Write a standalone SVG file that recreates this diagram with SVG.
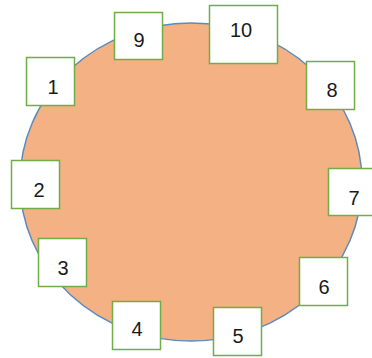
<svg xmlns="http://www.w3.org/2000/svg" width="372" height="358" viewBox="0 0 372 358">
<style>
.box{fill:#ffffff;stroke:#70AD47;stroke-width:1.5}
.lbl{font-family:"Liberation Sans",Arial,sans-serif;font-size:20px;fill:#1a1a1a;text-anchor:middle}
</style>
<rect width="372" height="358" fill="#ffffff"/>
<g id="circle">
<ellipse cx="191" cy="182" rx="171" ry="159" fill="#F4B183" stroke="#5B8BBE" stroke-width="1.5"/>
</g>
<g id="connectors"></g>
<g id="n1"><rect class="box" x="26.5" y="57.5" width="48" height="48"/><text class="lbl" x="53" y="94">1</text></g>
<g id="n2"><rect class="box" x="11.5" y="160.5" width="48" height="48"/><text class="lbl" x="39" y="197">2</text></g>
<g id="n3"><rect class="box" x="38.5" y="238.5" width="48" height="48"/><text class="lbl" x="63" y="275">3</text></g>
<g id="n4"><rect class="box" x="112.5" y="301.5" width="48" height="48"/><text class="lbl" x="137" y="336">4</text></g>
<g id="n5"><rect class="box" x="213.5" y="307.5" width="48" height="48"/><text class="lbl" x="238" y="343">5</text></g>
<g id="n6"><rect class="box" x="299.5" y="257.5" width="48" height="48"/><text class="lbl" x="324" y="294">6</text></g>
<g id="n7"><rect class="box" x="328.5" y="168.5" width="48" height="47"/><text class="lbl" x="354" y="205">7</text></g>
<g id="n8"><rect class="box" x="306.5" y="61.5" width="48" height="48"/><text class="lbl" x="332" y="97">8</text></g>
<g id="n9"><rect class="box" x="114.5" y="12.5" width="48" height="47"/><text class="lbl" x="139" y="47">9</text></g>
<g id="n10"><rect class="box" x="209.5" y="5.5" width="68" height="58"/><text class="lbl" x="241" y="37">10</text></g>
</svg>
